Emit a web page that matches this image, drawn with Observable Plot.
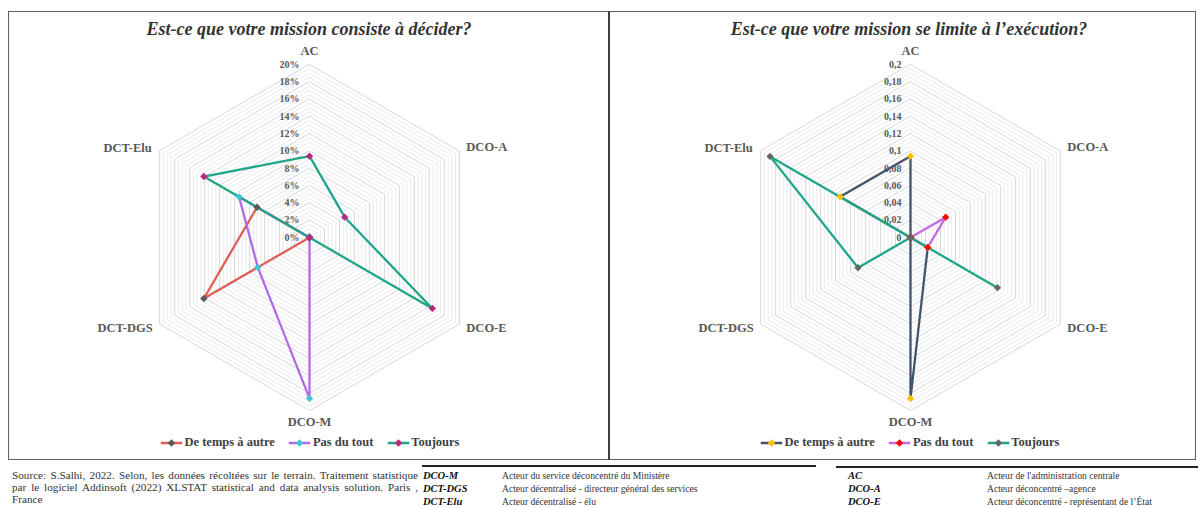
<!DOCTYPE html>
<html><head><meta charset="utf-8">
<script src="https://cdn.jsdelivr.net/npm/d3@7"></script>
<script src="https://cdn.jsdelivr.net/npm/@observablehq/plot@0.6"></script>
<style>
body{margin:0;background:#fff;font-family:"Liberation Serif",serif;}
#page{position:relative;width:1198px;height:508px;overflow:hidden;background:#fff}
.frame{position:absolute;left:8px;top:11px;width:1188px;height:449px;border:1.5px solid #606060;box-sizing:border-box}
.divider{position:absolute;left:608px;top:11px;width:1.5px;height:449px;background:#404040}
.plot{position:absolute;top:0}
.title{position:absolute;top:19px;transform:translateX(-50%);white-space:nowrap;font-weight:bold;font-style:italic;font-size:18px;color:#333}
.legend{position:absolute;top:435px;transform:translateX(-50%);white-space:nowrap;font-weight:bold;font-size:12.5px;color:#404040;display:flex;gap:14px;align-items:center}
.legend span{display:inline-flex;align-items:center;gap:2px}
.source{position:absolute;left:12px;top:469px;width:406px;font-size:11.2px;line-height:12px;text-align:justify;color:#333}
.rule{position:absolute;height:1.5px;background:#222}
.row{position:absolute;font-size:9.6px;line-height:12px;color:#333;white-space:nowrap}
.term{font-weight:bold;font-style:italic;color:#111;font-size:10.5px}
</style>
</head><body>
<div id="page"></div>
<script>
// ---- data ----
const categories = ["AC", "DCO-A", "DCO-E", "DCO-M", "DCT-DGS", "DCT-Elu"];
const seriesNames = ["De temps à autre", "Pas du tout", "Toujours"];

// Left chart: "Est-ce que votre mission consiste à décider?" (percent)
const deciderDeTemps   = [0, 0, 0, 0, 14.1, 7.0];
const deciderPasDuTout = [0, 0, 0, 18.6, 6.9, 9.4];
const deciderToujours  = [9.4, 4.7, 16.4, 0, 0, 14.1];
const deciderTicks = [0, 2, 4, 6, 8, 10, 12, 14, 16, 18, 20];
const deciderTickLabels = ["0%", "2%", "4%", "6%", "8%", "10%", "12%", "14%", "16%", "18%", "20%"];

// Right chart: "Est-ce que votre mission se limite à l'exécution?" (fraction)
const executionDeTemps   = [0.094, 0, 0.023, 0.186, 0, 0.094];
const executionPasDuTout = [0, 0.047, 0.023, 0, 0, 0];
const executionToujours  = [0, 0, 0.116, 0, 0.070, 0.1875];
const executionTicks = [0, 0.02, 0.04, 0.06, 0.08, 0.1, 0.12, 0.14, 0.16, 0.18, 0.2];
const executionTickLabels = ["0", "0,02", "0,04", "0,06", "0,08", "0,1", "0,12", "0,14", "0,16", "0,18", "0,2"];

const glossaryLeftTerms = ["DCO-M", "DCT-DGS", "DCT-Elu"];
const glossaryLeftDefs = ["Acteur du service déconcentré du Ministère", "Acteur décentralisé - directeur général des services", "Acteur décentralisé - élu"];
const glossaryRightTerms = ["AC", "DCO-A", "DCO-E"];
const glossaryRightDefs = ["Acteur de l'administration centrale", "Acteur déconcentré \u2013agence", "Acteur déconcentré - représentant de l’État"];

// ---- drawing ----
const page = document.getElementById("page");
const FONT = "Liberation Serif";

function radar({values, lineColors, markerColors, max, ticks, tickLabels, width, height, cx, cy, tickDx}) {
  const k = 173; // pixels for the full radius
  const n = categories.length;
  const pt = (i, u) => ({x: u * Math.sin(i * 2 * Math.PI / n), y: u * Math.cos(i * 2 * Math.PI / n)});
  const rings = [];
  const steps = 40;
  for (let j = 1; j <= steps; j++) for (let i = 0; i < n; i++) rings.push({ring: j, major: j % 4 === 0, ...pt(i, j / steps)});
  const series = values.map((vals, s) => vals.map((v, i) => ({series: seriesNames[s], cat: categories[i], ...pt(i, v / max)})));
  const tickData = ticks.map((t, j) => ({label: tickLabels[j], y: t / max}));
  const labelData = categories.map((c, i) => ({cat: c, ...pt(i, 1)}));
  const labOff = [
    {dx: 0, dy: -14, anchor: "middle"},
    {dx: 7, dy: -4, anchor: "start"},
    {dx: 7, dy: 4, anchor: "start"},
    {dx: 0, dy: 11, anchor: "middle"},
    {dx: -7, dy: 4, anchor: "end"},
    {dx: -8, dy: -3, anchor: "end"}
  ];
  const marks = [
    Plot.line(rings.filter(d => !d.major), {x: "x", y: "y", z: "ring", curve: "linear-closed", stroke: "#e4e4e4", strokeWidth: 0.8}),
    Plot.line(rings.filter(d => d.major), {x: "x", y: "y", z: "ring", curve: "linear-closed", stroke: "#d2d2d2", strokeWidth: 0.9}),
    Plot.text(tickData, {x: 0, y: "y", text: "label", textAnchor: "end", dx: tickDx, fontWeight: "bold", fontSize: 10, fill: "#595959", fontFamily: FONT}),
    ...labelData.map((d, i) => Plot.text([d], {x: "x", y: "y", text: "cat", textAnchor: labOff[i].anchor, dx: labOff[i].dx, dy: labOff[i].dy, fontWeight: "bold", fontSize: 12.5, fill: "#595959", fontFamily: FONT})),
    ...series.map((data, s) => Plot.line(data, {x: "x", y: "y", curve: "linear-closed", stroke: lineColors[s], strokeWidth: 2.3})),
    ...series.map((data, s) => Plot.dot(data, {x: "x", y: "y", symbol: "diamond2", r: 3.3, fill: markerColors[s], stroke: "none"}))
  ];
  return Plot.plot({
    width, height, margin: 0,
    x: {domain: [-cx / k, (width - cx) / k], range: [0, width], axis: null},
    y: {domain: [-(height - cy) / k, cy / k], range: [height, 0], axis: null},
    style: {fontFamily: FONT, background: "transparent", overflow: "visible"},
    marks
  });
}

function addDiv(cls, html, style) {
  const d = document.createElement("div");
  d.className = cls;
  d.innerHTML = html;
  Object.assign(d.style, style);
  page.appendChild(d);
  return d;
}

addDiv("frame", "", {});
addDiv("divider", "", {});

const leftColors = ["#e05d58", "#b46ae6", "#1fa68a"];
const leftMarkers = ["#5a5a5a", "#3ec6d2", "#c0257c"];
const rightColors = ["#44546a", "#c46be4", "#1fa68a"];
const rightMarkers = ["#ffc000", "#ff0000", "#666666"];

const left = radar({values: [deciderDeTemps, deciderPasDuTout, deciderToujours], lineColors: leftColors, markerColors: leftMarkers,
  max: 20, ticks: deciderTicks, tickLabels: deciderTickLabels, width: 605, height: 430, cx: 309, cy: 237, tickDx: -10});
left.classList.add("plot"); left.style.left = "0px"; page.appendChild(left);

const right = radar({values: [executionDeTemps, executionPasDuTout, executionToujours], lineColors: rightColors, markerColors: rightMarkers,
  max: 0.2, ticks: executionTicks, tickLabels: executionTickLabels, width: 588, height: 430, cx: 300, cy: 237, tickDx: -9});
right.classList.add("plot"); right.style.left = "610px"; page.appendChild(right);

addDiv("title", "Est-ce que votre mission consiste à décider?", {left: "309px"});
addDiv("title", "Est-ce que votre mission se limite à l’exécution?", {left: "909px"});

function swatch(line, marker) {
  return `<svg width="22" height="10"><line x1="0" y1="5" x2="22" y2="5" stroke="${line}" stroke-width="2.3"/><path d="M11 1.3 L14.7 5 L11 8.7 L7.3 5 Z" fill="${marker}"/></svg>`;
}
function legend(colors, markers, cxPos) {
  const html = seriesNames.map((s, i) => `<span>${swatch(colors[i], markers[i])}${s}</span>`).join("");
  addDiv("legend", html, {left: cxPos + "px"});
}
legend(leftColors, leftMarkers, 310);
legend(rightColors, rightMarkers, 910);

addDiv("source", "Source: S.Salhi, 2022. Selon, les données récoltées sur le terrain. Traitement statistique par le logiciel Addinsoft (2022) XLSTAT statistical and data analysis solution. Paris , France", {});

addDiv("rule", "", {left: "422px", top: "465px", width: "394px"});
addDiv("rule", "", {left: "836px", top: "466px", width: "362px"});
const rowTops = [470, 483, 496];
glossaryLeftTerms.forEach((t, i) => {
  addDiv("row term", t, {left: "423px", top: rowTops[i] + "px"});
  addDiv("row", glossaryLeftDefs[i], {left: "502px", top: rowTops[i] + "px"});
});
glossaryRightTerms.forEach((t, i) => {
  addDiv("row term", t, {left: "848px", top: rowTops[i] + "px"});
  addDiv("row", glossaryRightDefs[i], {left: "987px", top: rowTops[i] + "px"});
});
</script>
</body></html>
